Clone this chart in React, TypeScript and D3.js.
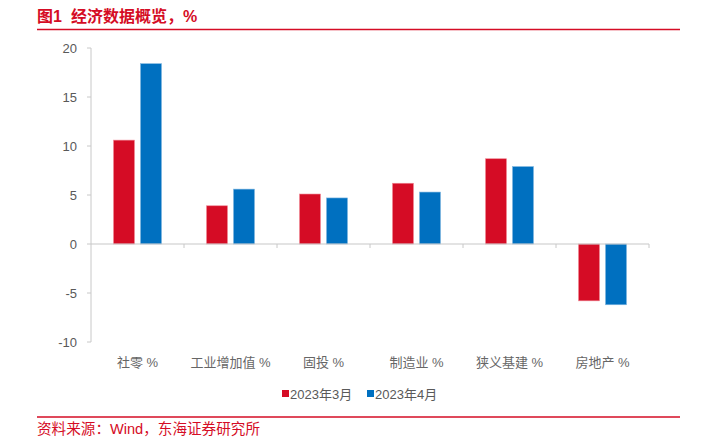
import React from "react";
import * as d3 from "d3";

const categories = ["社零 %", "工业增加值 %", "固投 %", "制造业 %", "狭义基建 %", "房地产 %"];
const seriesNames = ["2023年3月", "2023年4月"];
const march = [10.6, 3.9, 5.1, 6.2, 8.7, -5.8];
const april = [18.4, 5.6, 4.7, 5.3, 7.9, -6.2];
const yTicks = [20, 15, 10, 5, 0, -5, -10];
const colors = ["#D50C25", "#0070C0"];
const strokes = ["#F08A96", "#7FB6E0"];

const W = 701;
const H = 440;
const FONT = "'Liberation Sans', Arial, 'Noto Sans CJK SC', sans-serif";

export default function App() {
  const x = d3.scaleBand<string>().domain(categories).range([91, 649]);
  const y = d3.scaleLinear().domain([-10, 20]).range([342, 48]);
  const series = [march, april];
  const barW = 21;
  const gap = 6;

  return (
    <svg width={W} height={H} style={{ position: "absolute", left: 0, top: 0, background: "#fff" }}>
      <rect x={0} y={0} width={W} height={H} fill="#fff" />
      {/* title */}
      <text x={37} y={22} fill="#D50C25" fontSize={16} fontWeight="bold" fontFamily={FONT}>
        <tspan>图1</tspan>
        <tspan dx={9}>经济数据概览，%</tspan>
      </text>
      <line x1={37} x2={680} y1={29.5} y2={29.5} stroke="#D50C25" strokeWidth={1.6} />

      {/* y axis */}
      <line x1={91} x2={91} y1={y(20)} y2={y(-10)} stroke="#C8C8C8" strokeWidth={1} />
      {yTicks.map((t) => (
        <g key={t}>
          <line x1={87} x2={91} y1={y(t)} y2={y(t)} stroke="#C8C8C8" />
          <text x={77} y={y(t)} dy="0.35em" textAnchor="end" fontSize={13} fill="#595959" fontFamily={FONT}>
            {t}
          </text>
        </g>
      ))}

      {/* bars */}
      {categories.map((c, i) => {
        const cx = (x(c) as number) + x.bandwidth() / 2;
        return series.map((s, k) => {
          const v = s[i];
          const bx = cx - (barW + gap / 2) + k * (barW + gap);
          const y0 = y(0);
          const yv = y(v);
          return (
            <rect
              key={c + k}
              x={bx}
              y={Math.min(y0, yv)}
              width={barW}
              height={Math.abs(yv - y0)}
              fill={colors[k]}
              stroke={strokes[k]}
              strokeWidth={0.6}
            />
          );
        });
      })}

      {/* x axis */}
      <line x1={91} x2={649} y1={y(0)} y2={y(0)} stroke="#C8C8C8" strokeWidth={1.2} />
      {categories.map((c, i) => (
        <line key={"t" + i} x1={(x(c) as number) + x.bandwidth()} x2={(x(c) as number) + x.bandwidth()} y1={y(0)} y2={y(0) + 4} stroke="#C8C8C8" />
      ))}
      {categories.map((c) => (
        <text
          key={"l" + c}
          x={(x(c) as number) + x.bandwidth() / 2}
          y={367}
          textAnchor="middle"
          fontSize={13}
          fill="#666666"
          fontFamily={FONT}
        >
          {c}
        </text>
      ))}

      {/* legend */}
      <rect x={282} y={390} width={7} height={7} fill={colors[0]} />
      <text x={290} y={399} fontSize={13} fill="#595959" fontFamily={FONT}>{seriesNames[0]}</text>
      <rect x={367} y={390} width={7} height={7} fill={colors[1]} />
      <text x={375} y={399} fontSize={13} fill="#595959" fontFamily={FONT}>{seriesNames[1]}</text>

      {/* footer */}
      <line x1={37} x2={680} y1={417} y2={417} stroke="#D50C25" strokeWidth={1.6} />
      <text x={37} y={434} fill="#D50C25" fontSize={14.6} fontFamily={FONT}>
        资料来源：Wind，东海证券研究所
      </text>
    </svg>
  );
}
